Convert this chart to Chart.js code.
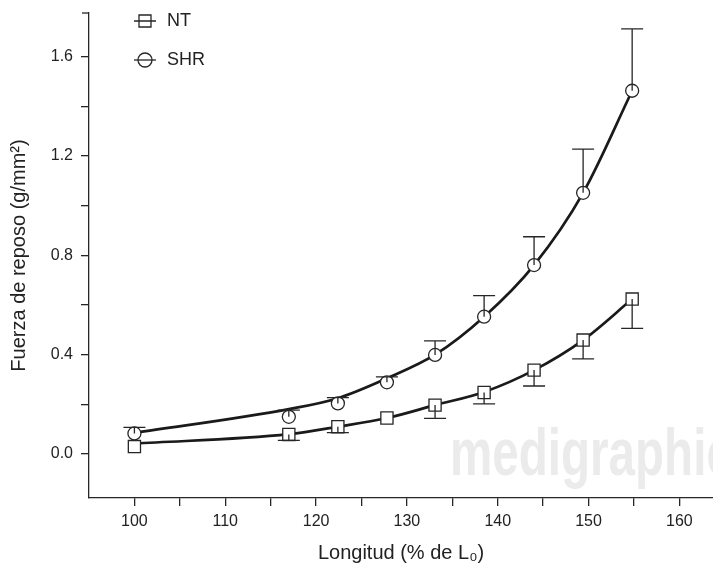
<!DOCTYPE html>
<html>
<head>
<meta charset="utf-8">
<script src="https://cdn.jsdelivr.net/npm/chart.js@4.4.1/dist/chart.umd.min.js"></script>
<style>
    html, body { margin: 0; padding: 0; background: #fff; }
    #wrap { width: 713px; height: 567px; }
</style>
</head>
<body>
<div id="wrap"><canvas id="restChart" width="713" height="567"></canvas></div>
<script>
// Longitud (% de L0) - same x for both groups
const longitud = [100, 117, 122.4, 127.8, 133.1, 138.5, 144, 149.4, 154.8];

// NT : mean, error (drawn downward) and fitted curve
const ntMean = [0.03, 0.079, 0.11, 0.145, 0.197, 0.248, 0.338, 0.459, 0.624];
const ntErr  = [0, 0.024, 0.024, 0, 0.053, 0.046, 0.064, 0.076, 0.118];
const ntFit  = [0.042, 0.08, 0.11, 0.145, 0.197, 0.25, 0.338, 0.459, 0.624];

// SHR : mean, error (drawn upward) and fitted curve
const shrMean = [0.083, 0.15, 0.204, 0.289, 0.399, 0.553, 0.761, 1.052, 1.463];
const shrErr  = [0.024, 0.027, 0.023, 0.022, 0.057, 0.085, 0.114, 0.176, 0.249];
const shrFit  = [0.085, 0.181, 0.225, 0.305, 0.4, 0.553, 0.761, 1.052, 1.463];

// axis ticks
const xMajor = [100, 110, 120, 130, 140, 150, 160];
const xMinor = [105, 115, 125, 135, 145, 155];
const yMajor = [0, 0.4, 0.8, 1.2, 1.6];
const yMinor = [0.2, 0.6, 1.0, 1.4];

const INK = '#262626';
const tickFont = { family: "'Liberation Sans Narrow', 'Liberation Sans', Arial, sans-serif", size: 16 };
const titleFont = { family: "'Liberation Sans', Arial, sans-serif", size: 20 };

function toPoints(values) {
    return longitud.map((x, i) => ({ x: x, y: values[i] }));
}

// Error bars with caps, NT going down and SHR going up
const errorBars = {
    id: 'errorBars',
    afterDatasetsDraw(chart) {
        const { ctx, scales: { x, y } } = chart;
        ctx.save();
        ctx.strokeStyle = INK;
        ctx.lineWidth = 1.3;
        const groups = [
            { mean: ntMean, err: ntErr, dir: -1 },
            { mean: shrMean, err: shrErr, dir: 1 }
        ];
        groups.forEach(g => {
            longitud.forEach((lx, i) => {
                if (!g.err[i]) return;
                const px = x.getPixelForValue(lx);
                const py0 = y.getPixelForValue(g.mean[i]);
                const py1 = y.getPixelForValue(g.mean[i] + g.dir * g.err[i]);
                ctx.beginPath();
                ctx.moveTo(px, py0);
                ctx.lineTo(px, py1);
                ctx.moveTo(px - 11, py1);
                ctx.lineTo(px + 11, py1);
                ctx.stroke();
            });
        });
        // little cap on top of the y axis
        ctx.beginPath();
        ctx.moveTo(x.left - 7, y.top);
        ctx.lineTo(x.left, y.top);
        ctx.stroke();
        ctx.restore();
    }
};

// Legend in the upper left corner
const cornerLegend = {
    id: 'cornerLegend',
    afterDraw(chart) {
        const ctx = chart.ctx;
        ctx.save();
        ctx.strokeStyle = INK;
        ctx.fillStyle = '#222';
        ctx.lineWidth = 1.3;
        // NT
        ctx.beginPath();
        ctx.moveTo(134, 21); ctx.lineTo(156, 21);
        ctx.rect(139, 15, 12, 12);
        ctx.stroke();
        // SHR
        ctx.beginPath();
        ctx.moveTo(134, 60); ctx.lineTo(156, 60);
        ctx.stroke();
        ctx.beginPath();
        ctx.arc(145, 60, 7, 0, Math.PI * 2);
        ctx.stroke();
        ctx.font = "18px 'Liberation Sans', Arial, sans-serif";
        ctx.textBaseline = 'middle';
        ctx.fillText('NT', 167, 21);
        ctx.fillText('SHR', 167, 60);
        ctx.restore();
    }
};

// faint watermark behind the data
const watermark = {
    id: 'watermark',
    beforeDatasetsDraw(chart) {
        const ctx = chart.ctx;
        ctx.save();
        ctx.fillStyle = '#ebebeb';
        ctx.font = "bold 67px 'Liberation Sans', Arial, sans-serif";
        ctx.translate(450, 475);
        ctx.scale(0.71, 1);
        ctx.fillText('medigraphic', 0, 0);
        ctx.restore();
    }
};

new Chart(document.getElementById('restChart'), {
    type: 'line',
    data: {
        datasets: [
            {
                label: 'SHR',
                data: toPoints(shrMean),
                showLine: false,
                pointStyle: 'circle',
                pointRadius: 6.5,
                pointBackgroundColor: '#fff',
                pointBorderColor: INK,
                pointBorderWidth: 1.3,
                order: 0
            },
            {
                label: 'NT',
                data: toPoints(ntMean),
                showLine: false,
                pointStyle: 'rect',
                pointRadius: 8.6,
                pointBackgroundColor: '#fff',
                pointBorderColor: INK,
                pointBorderWidth: 1.3,
                order: 0
            },
            {
                label: 'SHR ajuste',
                data: toPoints(shrFit),
                borderColor: '#1a1a1a',
                borderWidth: 2.7,
                pointRadius: 0,
                cubicInterpolationMode: 'monotone',
                order: 1
            },
            {
                label: 'NT ajuste',
                data: toPoints(ntFit),
                borderColor: '#1a1a1a',
                borderWidth: 2.7,
                pointRadius: 0,
                cubicInterpolationMode: 'monotone',
                order: 1
            }
        ]
    },
    options: {
        responsive: false,
        animation: false,
        devicePixelRatio: 1,
        layout: { autoPadding: false, padding: { top: 13, right: 0, left: 0, bottom: 0 } },
        plugins: {
            legend: { display: false },
            tooltip: { enabled: false }
        },
        scales: {
            x: {
                type: 'linear',
                min: 95,
                max: 163.7,
                afterFit(scale) {
                    scale.height = 69;
                    scale.paddingLeft = 0;
                    scale.paddingRight = 0;
                },
                afterBuildTicks(scale) {
                    scale.ticks = xMajor.concat(xMinor).sort((a, b) => a - b).map(v => ({ value: v }));
                },
                grid: { drawOnChartArea: false, drawTicks: true, tickLength: 8, color: INK, lineWidth: 1.3 },
                border: { display: true, color: INK, width: 1.3 },
                ticks: {
                    color: '#222',
                    font: tickFont,
                    padding: 6,
                    maxRotation: 0,
                    autoSkip: false,
                    callback: v => xMajor.includes(v) ? String(v) : ''
                },
                title: {
                    display: true,
                    text: 'Longitud (% de L₀)',
                    color: '#222',
                    font: titleFont,
                    padding: { top: 0, bottom: 2 }
                }
            },
            y: {
                min: -0.177,
                max: 1.776,
                afterFit(scale) {
                    scale.width = 89;
                    scale.paddingTop = 0;
                    scale.paddingBottom = 0;
                },
                afterBuildTicks(scale) {
                    scale.ticks = yMajor.concat(yMinor).sort((a, b) => a - b).map(v => ({ value: v }));
                },
                grid: { drawOnChartArea: false, drawTicks: true, tickLength: 8, color: INK, lineWidth: 1.3 },
                border: { display: true, color: INK, width: 1.3 },
                ticks: {
                    color: '#222',
                    font: tickFont,
                    padding: 8,
                    autoSkip: false,
                    callback: v => yMajor.includes(v) ? v.toFixed(1) : ''
                },
                title: {
                    display: true,
                    text: 'Fuerza de reposo (g/mm²)',
                    color: '#222',
                    font: titleFont,
                    padding: { top: 7, bottom: 0 }
                }
            }
        }
    },
    plugins: [watermark, errorBars, cornerLegend]
});
</script>
</body>
</html>
